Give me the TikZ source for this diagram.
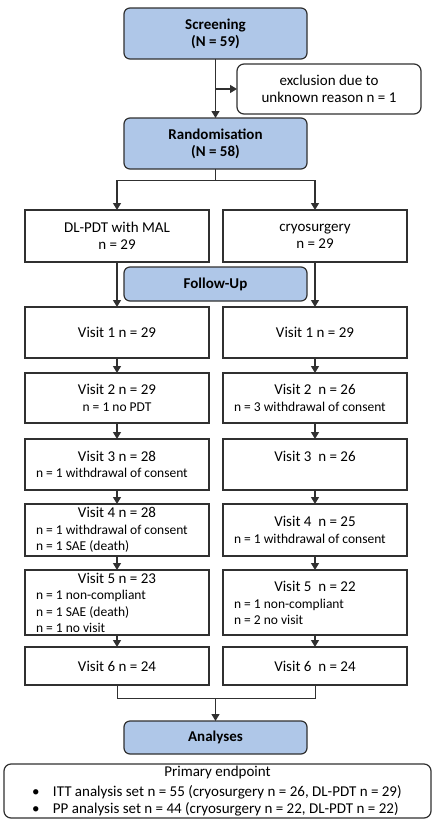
\documentclass[tikz,border=0pt]{standalone}
\usepackage{fontspec}
\setmainfont{Carlito}
\usepackage{xcolor}
\usepackage{tikz}
\usetikzlibrary{positioning,arrows.meta}
\definecolor{boxblue}{HTML}{AFC7E8}
\definecolor{boxline}{HTML}{303030}
\tikzstyle{bluebox} = [draw=boxline, line width=1.2pt, fill=boxblue, rounded corners=6pt, outer sep=0pt,
	minimum width=183pt, inner sep=0pt, align=center, font=\fontsize{15}{17}\selectfont\bfseries]
\tikzstyle{roundbox} = [draw=boxline, line width=1.2pt, fill=white, rounded corners=7pt, outer sep=0pt,
	inner sep=0pt, align=center, font=\fontsize{15}{17}\selectfont]
\tikzstyle{visitbox} = [draw=boxline, line width=1.2pt, rectangle, minimum width=184pt, outer sep=0pt,
	inner sep=0pt, align=center, font=\fontsize{13.5}{16.5}\selectfont]
\tikzstyle{arr} = [draw=boxline, line width=1.3pt, -{Triangle[length=7pt,width=8pt]}]
\tikzstyle{thinline} = [draw=boxline, line width=0.7pt]
\newcommand{\vtitle}[1]{{\fontsize{15}{16.5}\selectfont #1}}
\newcommand{\subline}[1]{\makebox[162pt][l]{#1}}
\newcommand{\lowblock}[1]{\raisebox{-6pt}[0pt][0pt]{\begin{tabular}{@{}c@{}}#1\end{tabular}}}

\begin{document}
\begin{tikzpicture}[x=1pt, y=1pt, node distance=15pt]
		\useasboundingbox (0,0) rectangle (438,-828);
		\node[bluebox, minimum height=51pt] (screen) at (215.5,-33.5) {Screening\\(N = 59)};			% Screening
		\node[bluebox, minimum height=51pt, below=59pt of screen] (rand) {Randomisation\\(N = 58)};	% Randomisierung
		\node[roundbox, minimum width=184pt, minimum height=50pt, below right=5pt and 21.5pt of screen.south] (excl) {exclusion due to\\unknown reason n = 1};
		\node[visitbox, minimum height=52pt, below=41pt of rand, xshift=-98.5pt, font=\fontsize{15}{17}\selectfont] (pdt) {DL-PDT with MAL\\n = 29};
		\node[visitbox, minimum height=52pt, right=14pt of pdt, font=\fontsize{15}{17}\selectfont] (cryo) {cryosurgery\\n = 29};
		\coordinate (fu-top) at (rand.south |- pdt.south);									% unsichtbarer Punkt unter den Armen
		\node[bluebox, minimum height=34pt, below=5pt of fu-top] (fu) {Follow-Up};
		
		% Visits, linker Arm
		\node[visitbox, minimum height=51pt, below=45pt of pdt, font=\fontsize{15}{17}\selectfont] (v1-pdt) {Visit 1 n = 29};
		\node[visitbox, minimum height=50pt, below=15pt of v1-pdt] (v2-pdt) {\vtitle{Visit 2 n = 29}\\n = 1 no PDT};
		\node[visitbox, minimum height=51pt, below=16pt of v2-pdt] (v3-pdt) {\vtitle{Visit 3 n = 28}\\\subline{n = 1 withdrawal of consent}};
		\node[visitbox, minimum height=52pt, below=14pt of v3-pdt] (v4-pdt) {\vtitle{Visit 4 n = 28}\\\subline{n = 1 withdrawal of consent}\\\subline{n = 1 SAE (death)}};
		\node[visitbox, minimum height=65pt, below=14pt of v4-pdt] (v5-pdt) {\lowblock{\vtitle{Visit 5 n = 23}\\\subline{n = 1 non-compliant}\\\subline{n = 1 SAE (death)}\\\subline{n = 1 no visit}}};
		\node[visitbox, minimum height=38pt, below=12pt of v5-pdt, font=\fontsize{15}{17}\selectfont] (v6-pdt) {Visit 6 n = 24};
		
		% Visits, rechter Arm
		\node[visitbox, minimum height=51pt, below=45pt of cryo, font=\fontsize{15}{17}\selectfont] (v1-cryo) {Visit 1 n = 29};
		\node[visitbox, minimum height=50pt, below=15pt of v1-cryo] (v2-cryo) {\vtitle{Visit 2~ n = 26}\\\subline{n = 3 withdrawal of consent}};
		\node[visitbox, minimum height=51pt, below=16pt of v2-cryo] (v3-cryo) {\vtitle{Visit 3~ n = 26}\\ \mbox{}};
		\node[visitbox, minimum height=52pt, below=14pt of v3-cryo] (v4-cryo) {\vtitle{Visit 4~ n = 25}\\\subline{n = 1 withdrawal of consent}};
		\node[visitbox, minimum height=65pt, below=14pt of v4-cryo] (v5-cryo) {\lowblock{\vtitle{Visit 5~ n = 22}\\\subline{n = 1 non-compliant}\\\subline{n = 2 no visit}}};
		\node[visitbox, minimum height=38pt, below=12pt of v5-cryo, font=\fontsize{15}{17}\selectfont] (v6-cryo) {Visit 6~ n = 24};
		
		% Zusammenfuehrung und Auswertung
		\draw[thinline] (v6-pdt.south) -- ++(0,-13) coordinate (merge-l) -| (v6-cryo.south);
		\coordinate (merge) at (rand.south |- merge-l);
		\node[bluebox, minimum height=33pt, below=23pt of merge] (ana) {Analyses};
		\node[roundbox, minimum width=427pt, minimum height=54pt, below=10pt of ana, xshift=2pt] (prim) {Primary endpoint\\[3pt]
			\makebox[371pt][l]{\makebox[21pt][l]{\textbullet}ITT analysis set n = 55 (cryosurgery n = 26, DL-PDT n = 29)}\\
			\makebox[371pt][l]{\makebox[21pt][l]{\textbullet}PP analysis set n = 44 (cryosurgery n = 22, DL-PDT n = 22)}};
		
		% Pfeile
		\draw[arr] (screen) -- (rand);
		\draw[arr] (screen.south |- excl.west) -- (excl.west);
		\draw[thinline] (rand.south) -- ++(0,-11) coordinate (split);
		\draw[thinline] (split -| pdt.north) -- (split -| cryo.north);
		\draw[arr] (split -| pdt.north) -- (pdt.north);
		\draw[arr] (split -| cryo.north) -- (cryo.north);
		\draw[arr] (pdt) -- (v1-pdt);
		\draw[arr] (v1-pdt) -- (v2-pdt);
		\draw[arr] (v2-pdt) -- (v3-pdt);
		\draw[arr] (v3-pdt) -- (v4-pdt);
		\draw[arr] (v4-pdt) -- (v5-pdt);
		\draw[arr] (v5-pdt) -- (v6-pdt);
		\draw[arr] (cryo) -- (v1-cryo);
		\draw[arr] (v1-cryo) -- (v2-cryo);
		\draw[arr] (v2-cryo) -- (v3-cryo);
		\draw[arr] (v3-cryo) -- (v4-cryo);
		\draw[arr] (v4-cryo) -- (v5-cryo);
		\draw[arr] (v5-cryo) -- (v6-cryo);
		\draw[arr] (merge) -- (ana);
\end{tikzpicture}
\end{document}
